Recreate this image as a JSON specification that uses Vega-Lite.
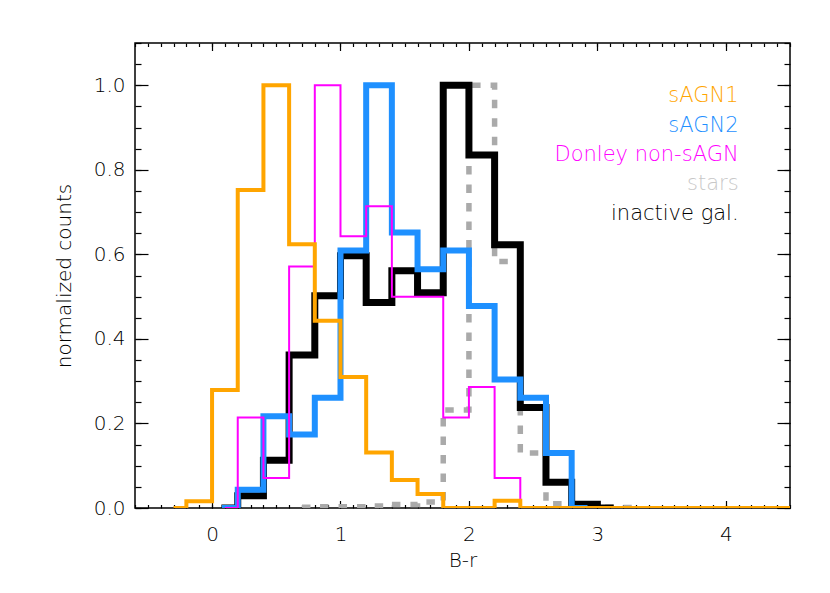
{
  "$schema": "https://vega.github.io/schema/vega-lite/v6.json",
  "width": 655,
  "height": 465,
  "autosize": {"type": "none"},
  "padding": {"left": 135, "top": 43, "right": 40, "bottom": 85},
  "background": "white",
  "config": {
    "font": "DejaVu Sans",
    "view": {"stroke": "black", "strokeWidth": 1.5},
    "axis": {
      "grid": false,
      "domain": false,
      "tickColor": "black",
      "tickWidth": 1.2,
      "labelFont": "DejaVu Sans",
      "labelFontWeight": 200,
      "labelFontSize": 20,
      "labelColor": "black",
      "titleFont": "DejaVu Sans",
      "titleFontWeight": 200,
      "titleFontSize": 20,
      "titleColor": "black"
    }
  },
  "datasets": {
    "hist": [
      {"series": "inactive gal.", "x": 0.1, "y": 0},
      {"series": "inactive gal.", "x": 0.2, "y": 0.029},
      {"series": "inactive gal.", "x": 0.4, "y": 0.113},
      {"series": "inactive gal.", "x": 0.6, "y": 0.362},
      {"series": "inactive gal.", "x": 0.8, "y": 0.502},
      {"series": "inactive gal.", "x": 1.0, "y": 0.597},
      {"series": "inactive gal.", "x": 1.2, "y": 0.486},
      {"series": "inactive gal.", "x": 1.4, "y": 0.561},
      {"series": "inactive gal.", "x": 1.6, "y": 0.509},
      {"series": "inactive gal.", "x": 1.8, "y": 1.0},
      {"series": "inactive gal.", "x": 2.0, "y": 0.835},
      {"series": "inactive gal.", "x": 2.2, "y": 0.623},
      {"series": "inactive gal.", "x": 2.4, "y": 0.238},
      {"series": "inactive gal.", "x": 2.6, "y": 0.061},
      {"series": "inactive gal.", "x": 2.8, "y": 0.009},
      {"series": "inactive gal.", "x": 3.0, "y": 0.0},
      {"series": "inactive gal.", "x": 3.1, "y": 0.0},
      {"series": "stars", "x": 0.7, "y": 0.002},
      {"series": "stars", "x": 0.8, "y": 0.003},
      {"series": "stars", "x": 1.0, "y": 0.003},
      {"series": "stars", "x": 1.2, "y": 0.005},
      {"series": "stars", "x": 1.4, "y": 0.008},
      {"series": "stars", "x": 1.6, "y": 0.014},
      {"series": "stars", "x": 1.8, "y": 0.232},
      {"series": "stars", "x": 2.0, "y": 1.0},
      {"series": "stars", "x": 2.2, "y": 0.583},
      {"series": "stars", "x": 2.4, "y": 0.13},
      {"series": "stars", "x": 2.6, "y": 0.01},
      {"series": "stars", "x": 2.8, "y": 0.004},
      {"series": "stars", "x": 3.0, "y": 0.002},
      {"series": "stars", "x": 3.2, "y": 0.001},
      {"series": "stars", "x": 3.3, "y": 0.001},
      {"series": "sAGN2", "x": 0.1, "y": 0},
      {"series": "sAGN2", "x": 0.2, "y": 0.043},
      {"series": "sAGN2", "x": 0.4, "y": 0.217},
      {"series": "sAGN2", "x": 0.6, "y": 0.174},
      {"series": "sAGN2", "x": 0.8, "y": 0.261},
      {"series": "sAGN2", "x": 1.0, "y": 0.609},
      {"series": "sAGN2", "x": 1.2, "y": 1.0},
      {"series": "sAGN2", "x": 1.4, "y": 0.652},
      {"series": "sAGN2", "x": 1.6, "y": 0.565},
      {"series": "sAGN2", "x": 1.8, "y": 0.609},
      {"series": "sAGN2", "x": 2.0, "y": 0.478},
      {"series": "sAGN2", "x": 2.2, "y": 0.304},
      {"series": "sAGN2", "x": 2.4, "y": 0.261},
      {"series": "sAGN2", "x": 2.6, "y": 0.13},
      {"series": "sAGN2", "x": 2.8, "y": 0.0},
      {"series": "sAGN2", "x": 2.9, "y": 0.0},
      {"series": "Donley non-sAGN", "x": 0.1, "y": 0},
      {"series": "Donley non-sAGN", "x": 0.2, "y": 0.214},
      {"series": "Donley non-sAGN", "x": 0.4, "y": 0.071},
      {"series": "Donley non-sAGN", "x": 0.6, "y": 0.571},
      {"series": "Donley non-sAGN", "x": 0.8, "y": 1.0},
      {"series": "Donley non-sAGN", "x": 1.0, "y": 0.643},
      {"series": "Donley non-sAGN", "x": 1.2, "y": 0.714},
      {"series": "Donley non-sAGN", "x": 1.4, "y": 0.5},
      {"series": "Donley non-sAGN", "x": 1.6, "y": 0.5},
      {"series": "Donley non-sAGN", "x": 1.8, "y": 0.214},
      {"series": "Donley non-sAGN", "x": 2.0, "y": 0.286},
      {"series": "Donley non-sAGN", "x": 2.2, "y": 0.071},
      {"series": "Donley non-sAGN", "x": 2.4, "y": 0.0},
      {"series": "Donley non-sAGN", "x": 2.5, "y": 0.0},
      {"series": "sAGN1", "x": -0.3, "y": 0},
      {"series": "sAGN1", "x": -0.2, "y": 0.016},
      {"series": "sAGN1", "x": 0.0, "y": 0.279},
      {"series": "sAGN1", "x": 0.2, "y": 0.752},
      {"series": "sAGN1", "x": 0.4, "y": 1.0},
      {"series": "sAGN1", "x": 0.6, "y": 0.624},
      {"series": "sAGN1", "x": 0.8, "y": 0.443},
      {"series": "sAGN1", "x": 1.0, "y": 0.31},
      {"series": "sAGN1", "x": 1.2, "y": 0.131},
      {"series": "sAGN1", "x": 1.4, "y": 0.066},
      {"series": "sAGN1", "x": 1.6, "y": 0.033},
      {"series": "sAGN1", "x": 1.8, "y": 0.0},
      {"series": "sAGN1", "x": 2.0, "y": 0.0},
      {"series": "sAGN1", "x": 2.2, "y": 0.017},
      {"series": "sAGN1", "x": 2.4, "y": 0.0},
      {"series": "sAGN1", "x": 2.6, "y": 0.0},
      {"series": "sAGN1", "x": 2.8, "y": 0.0},
      {"series": "sAGN1", "x": 3.0, "y": 0.0},
      {"series": "sAGN1", "x": 3.2, "y": 0.0},
      {"series": "sAGN1", "x": 3.4, "y": 0.0},
      {"series": "sAGN1", "x": 3.6, "y": 0.0},
      {"series": "sAGN1", "x": 3.8, "y": 0.0},
      {"series": "sAGN1", "x": 4.0, "y": 0.0},
      {"series": "sAGN1", "x": 4.2, "y": 0.0},
      {"series": "sAGN1", "x": 4.4, "y": 0.0},
      {"series": "sAGN1", "x": 4.6, "y": 0.0}
    ],
    "labels": [
      {"label": "sAGN1", "x": 4.1, "y": 0.975},
      {"label": "sAGN2", "x": 4.1, "y": 0.904},
      {"label": "Donley non-sAGN", "x": 4.1, "y": 0.836},
      {"label": "stars", "x": 4.1, "y": 0.766},
      {"label": "inactive gal.", "x": 4.1, "y": 0.696}
    ]
  },
  "layer": [
    {
      "data": {"name": "hist"},
      "transform": [{"filter": "datum.series === 'stars'"}],
      "mark": {"type": "line", "interpolate": "step-after", "color": "#aaaaaa", "strokeWidth": 5.5, "strokeDash": [8.5, 10], "strokeCap": "butt", "clip": true},
      "encoding": {
        "x": {"field": "x", "type": "quantitative", "scale": {"domain": [-0.6, 4.5], "nice": false, "zero": false},
          "axis": {"orient": "bottom", "values": [-0.6,-0.5,-0.4,-0.3,-0.2,-0.1,0,0.1,0.2,0.3,0.4,0.5,0.6,0.7,0.8,0.9,1,1.1,1.2,1.3,1.4,1.5,1.6,1.7,1.8,1.9,2,2.1,2.2,2.3,2.4,2.5,2.6,2.7,2.8,2.9,3,3.1,3.2,3.3,3.4,3.5,3.6,3.7,3.8,3.9,4,4.1,4.2,4.3,4.4,4.5], "tickSize": -3.5, "labels": false, "title": null}},
        "y": {"field": "y", "type": "quantitative", "scale": {"domain": [0, 1.1], "nice": false, "zero": true},
          "axis": {"orient": "left", "values": [0,0.05,0.1,0.15,0.2,0.25,0.3,0.35,0.4,0.45,0.5,0.55,0.6,0.65,0.7,0.75,0.8,0.85,0.9,0.95,1.0,1.05,1.1], "tickSize": -6, "labels": false, "title": null}}
      }
    },
    {
      "data": {"name": "hist"},
      "transform": [{"filter": "datum.series === 'inactive gal.'"}],
      "mark": {"type": "line", "interpolate": "step-after", "color": "black", "strokeWidth": 7, "strokeCap": "square", "strokeJoin": "miter", "clip": true},
      "encoding": {
        "x": {"field": "x", "type": "quantitative",
          "axis": {"orient": "bottom", "values": [0, 1, 2, 3, 4], "format": "d", "tickSize": -7.5, "labelPadding": 24, "title": "B-r", "titlePadding": 6}},
        "y": {"field": "y", "type": "quantitative",
          "axis": {"orient": "left", "values": [0, 0.2, 0.4, 0.6, 0.8, 1.0], "format": ".1f", "tickSize": -13, "labelPadding": 23, "title": "normalized counts", "titlePadding": 19}}
      }
    },
    {
      "data": {"name": "hist"},
      "transform": [{"filter": "datum.series === 'sAGN2'"}],
      "mark": {"type": "line", "interpolate": "step-after", "color": "#1E90FF", "strokeWidth": 6, "strokeCap": "square", "strokeJoin": "miter", "clip": true},
      "encoding": {
        "x": {"field": "x", "type": "quantitative",
          "axis": {"orient": "top", "values": [0, 1, 2, 3, 4], "tickSize": -7.5, "labels": false, "title": null}},
        "y": {"field": "y", "type": "quantitative",
          "axis": {"orient": "right", "values": [0, 0.2, 0.4, 0.6, 0.8, 1.0], "tickSize": -13, "labels": false, "title": null}}
      }
    },
    {
      "data": {"name": "hist"},
      "transform": [{"filter": "datum.series === 'Donley non-sAGN'"}],
      "mark": {"type": "line", "interpolate": "step-after", "color": "#FF00FF", "strokeWidth": 2, "strokeJoin": "miter", "clip": true},
      "encoding": {
        "x": {"field": "x", "type": "quantitative",
          "axis": {"orient": "top", "values": [-0.6,-0.5,-0.4,-0.3,-0.2,-0.1,0,0.1,0.2,0.3,0.4,0.5,0.6,0.7,0.8,0.9,1,1.1,1.2,1.3,1.4,1.5,1.6,1.7,1.8,1.9,2,2.1,2.2,2.3,2.4,2.5,2.6,2.7,2.8,2.9,3,3.1,3.2,3.3,3.4,3.5,3.6,3.7,3.8,3.9,4,4.1,4.2,4.3,4.4,4.5], "tickSize": -3.5, "labels": false, "title": null}},
        "y": {"field": "y", "type": "quantitative",
          "axis": {"orient": "right", "values": [0,0.05,0.1,0.15,0.2,0.25,0.3,0.35,0.4,0.45,0.5,0.55,0.6,0.65,0.7,0.75,0.8,0.85,0.9,0.95,1.0,1.05,1.1], "tickSize": -6, "labels": false, "title": null}}
      }
    },
    {
      "data": {"name": "hist"},
      "transform": [{"filter": "datum.series === 'sAGN1'"}],
      "mark": {"type": "line", "interpolate": "step-after", "color": "#FFA500", "strokeWidth": 4, "strokeCap": "butt", "strokeJoin": "miter", "clip": true},
      "encoding": {
        "x": {"field": "x", "type": "quantitative", "axis": null},
        "y": {"field": "y", "type": "quantitative", "axis": null}
      }
    },
    {
      "data": {"name": "labels"},
      "mark": {"type": "text", "align": "right", "baseline": "middle", "fontSize": 21, "fontWeight": 200, "font": "DejaVu Sans"},
      "encoding": {
        "x": {"field": "x", "type": "quantitative", "axis": null},
        "y": {"field": "y", "type": "quantitative", "axis": null},
        "text": {"field": "label"},
        "color": {"field": "label", "type": "nominal", "legend": null,
          "scale": {"domain": ["sAGN1", "sAGN2", "Donley non-sAGN", "stars", "inactive gal."], "range": ["#FFA500", "#1E90FF", "#FF00FF", "#C8C8C8", "#000000"]}}
      }
    }
  ],
  "resolve": {"axis": {"x": "independent", "y": "independent"}}
}
